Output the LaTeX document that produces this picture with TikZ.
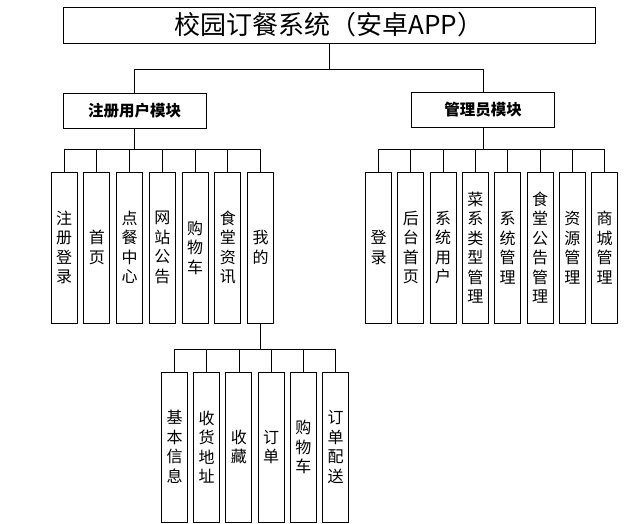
\documentclass[tikz,border=0pt]{standalone}
\usepackage{fontspec}
\newfontfamily\cjk{Noto Sans CJK SC}
\usetikzlibrary{positioning}

\begin{document}
\begin{tikzpicture}[x=1pt, y=-1pt,
  top/.style={rectangle, draw, line width=0.9pt, minimum width=532pt,
    minimum height=36pt, inner sep=0pt, font=\cjk\fontsize{26}{28}\selectfont},
  module/.style={rectangle, draw, line width=0.9pt, minimum width=143pt,
    minimum height=35pt, inner sep=0pt, font=\cjk\bfseries\fontsize{15.5}{17}\selectfont},
  leaf/.style={rectangle, draw, line width=0.9pt, minimum width=26pt,
    minimum height=151pt, inner sep=0pt, align=center,
    font=\cjk\fontsize{16}{19.5}\selectfont},
  link/.style={line width=0.7pt},
]
  \useasboundingbox (0,0) rectangle (634,524);
  % root and the two modules
  \node[top] (sys) at (329,25) {校园订餐系统（安卓APP）};
  \node[module] (user) at (134.5,110.5) {注册用户模块};
  \node[module] (admin) at (483,109.5) {管理员模块};
  \draw[link] (sys.south) -- ++(0,26) -| (user.north);
  \draw[link] (sys.south) -- ++(0,26) -| (admin.north);
  % user module
  \foreach \txt [count=\i] in {{注\\册\\登\\录}, {首\\页}, {点\\餐\\中\\心},
      {网\\站\\公\\告}, {购\\物\\车}, {食\\堂\\资\\讯}, {我\\的}} {
    \node[leaf] (u\i) at ({64+32.75*(\i-1)},247.5) {\txt};
    \draw[link] (user.south) -- ++(0,21) -| (u\i.north);
  }
  % admin module
  \foreach \txt [count=\i] in {{登\\录}, {后\\台\\首\\页}, {系\\统\\用\\户},
      {菜\\系\\类\\型\\管\\理}, {系\\统\\管\\理}, {食\\堂\\公\\告\\管\\理},
      {资\\源\\管\\理}, {商\\城\\管\\理}} {
    \node[leaf] (a\i) at ({378.5+32.3*(\i-1)},247.5) {\txt};
    \draw[link] (admin.south) -- ++(0,22) -| (a\i.north);
  }
  % my page
  \foreach \txt [count=\i] in {{基\\本\\信\\息}, {收\\货\\地\\址}, {收\\藏},
      {订\\单}, {购\\物\\车}, {订\\单\\配\\送}} {
    \node[leaf, minimum height=150pt] (m\i) at ({174.5+32.2*(\i-1)},447) {\txt};
    \draw[link] (u7.south) -- ++(0,26) -| (m\i.north);
  }
\end{tikzpicture}
\end{document}
